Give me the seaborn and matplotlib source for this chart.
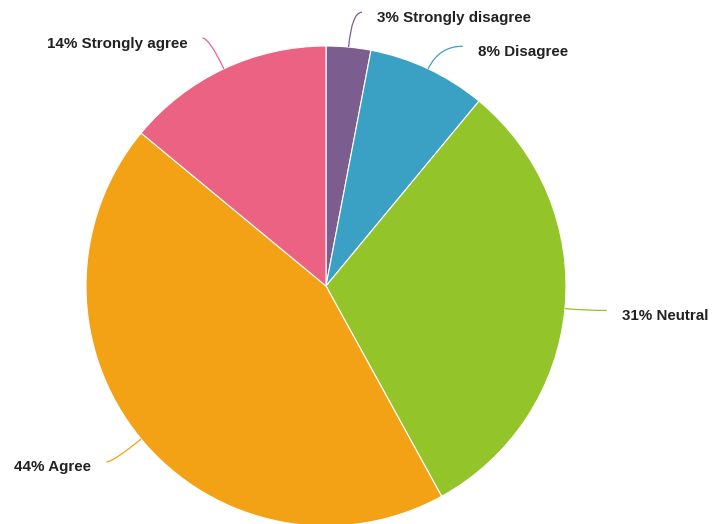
import numpy as np
import matplotlib
matplotlib.use("Agg")
import matplotlib.pyplot as plt
import seaborn as sns
from matplotlib.path import Path
from matplotlib.patches import PathPatch

# ---- data ----
categories = ["Strongly disagree", "Disagree", "Neutral", "Agree", "Strongly agree"]
values = [3, 8, 31, 44, 14]
colors = ["#7b5e8f", "#3ba1c4", "#93c52a", "#f3a215", "#ec6282"]

# ---- label leader layout (first radial length, second horizontal length), px ----
leader_len1 = [35, 25, 20, 36, 34]
leader_len2 = [10, 24, 22, 7, 7]

sns.set_theme(style="white")
plt.rcParams["font.family"] = ["Liberation Sans", "DejaVu Sans"]

W, H = 720, 524
fig = plt.figure(figsize=(W / 100, H / 100), dpi=100)
ax = fig.add_axes([0, 0, 1, 1])
palette = sns.color_palette(colors)

cx, cy, R = 326, H - 286, 240
wedges, _ = ax.pie(values, colors=palette, startangle=90, counterclock=False,
                   radius=R, center=(cx, cy),
                   wedgeprops=dict(edgecolor="white", linewidth=0.8))
ax.set_xlim(0, W)
ax.set_ylim(0, H)
ax.set_aspect("equal")
ax.axis("off")

for w, cat, v, col, L1, L2 in zip(wedges, categories, values, palette, leader_len1, leader_len2):
    th = np.deg2rad((w.theta1 + w.theta2) / 2)
    d = np.array([np.cos(th), np.sin(th)])
    c = np.array([cx, cy])
    p0 = c + R * d
    p1 = c + (R + L1) * d
    s = 1 if d[0] >= 0 else -1
    p2 = p1 + np.array([s * L2, 0])
    path = Path([p0, p1, p2], [Path.MOVETO, Path.CURVE3, Path.CURVE3])
    ax.add_patch(PathPatch(path, fill=False, edgecolor=col, linewidth=0.9, clip_on=False))
    ax.text(p2[0] + s * 15, p2[1] - 5.5, f"{v}% {cat}", ha="left" if s > 0 else "right",
            va="center", fontsize=10.9, fontweight="bold", color="#222222")

fig.savefig("out.png", dpi=100, facecolor="white")
